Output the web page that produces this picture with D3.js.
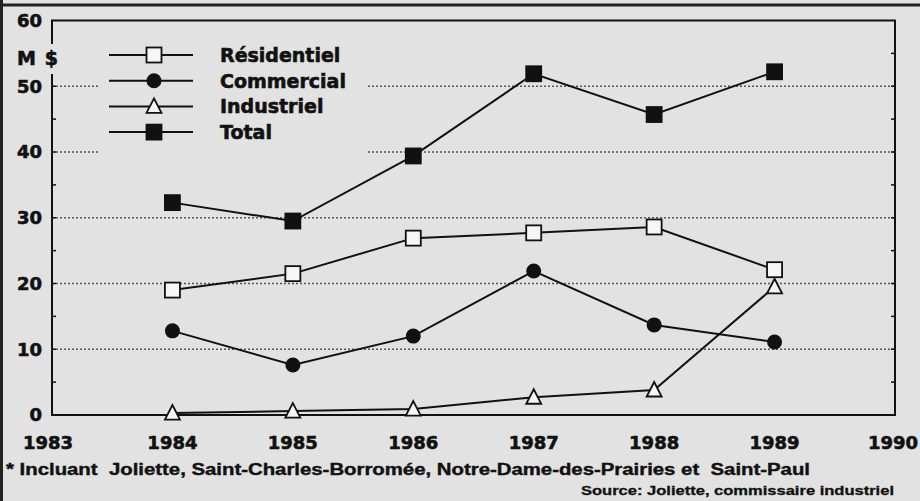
<!DOCTYPE html>
<meta charset="utf-8">
<style>

html,
body {
  margin: 0;
  overflow: hidden;
  background: #e2e2e2;
}

text {
  font-weight: bold;
  fill: #111;
  stroke: #111;
  stroke-width: 0.6;
}

</style>
<body>
<script src="https://d3js.org/d3.v7.min.js"></script>
<script>

var width = 920,
 height = 501;

// values (millions of dollars)
var years = [1984, 1985, 1986, 1987, 1988, 1989];
var residentiel = [19.0, 21.5, 26.9, 27.7, 28.6, 22.1];
var commercial = [12.8, 7.6, 12.0, 21.9, 13.7, 11.1];
var industriel = [0.3, 0.6, 0.9, 2.7, 3.8, 19.5];
var total = [32.3, 29.5, 39.4, 51.9, 45.7, 52.2];

var seriesNames = ["Résidentiel", "Commercial", "Industriel", "Total"];
var seriesShapes = ["square-open", "circle", "triangle-open", "square"];
var yTicks = [0, 10, 20, 30, 40, 50, 60];
var xTicks = [1983, 1984, 1985, 1986, 1987, 1988, 1989, 1990];

var series = [residentiel, commercial, industriel, total];

var x = d3.scaleLinear().domain([1983, 1990]).range([52, 895]);
var y = d3.scaleLinear().domain([0, 60]).range([415, 20.5]);

var svg = d3.select("body")
  .append("svg")
  .attr("width", width)
  .attr("height", height)
  .style("font-family", "'DejaVu Sans', sans-serif");

svg.append("rect")
  .attr("width", width)
  .attr("height", height)
  .attr("fill", "#e2e2e2");

// scan border
svg.append("line")
  .attr("x1", 0).attr("x2", width)
  .attr("y1", 5).attr("y2", 5)
  .attr("stroke", "#222").attr("stroke-width", 3);
svg.append("line")
  .attr("x1", 1.5).attr("x2", 1.5)
  .attr("y1", 0).attr("y2", height)
  .attr("stroke", "#222").attr("stroke-width", 3);

// dotted grid
svg.selectAll(".grid")
  .data(yTicks.filter(function(d) { return d > 0 && d < 60; }))
  .enter().append("line")
  .attr("class", "grid")
  .attr("x1", x(1983)).attr("x2", x(1990))
  .attr("y1", function(d) { return y(d); })
  .attr("y2", function(d) { return y(d); })
  .attr("stroke", "#555")
  .attr("stroke-width", 1.6)
  .attr("stroke-dasharray", "2,2");

// frame
svg.append("path")
  .attr("d", "M" + x(1983) + "," + y(0) + "V" + y(60) + "H" + x(1990) + "V" + y(0) + "Z")
  .attr("fill", "none")
  .attr("stroke", "#111")
  .attr("stroke-width", 2);

// minor ticks on left and right
var minor = d3.range(5, 60, 5);
svg.selectAll(".ltick")
  .data(minor)
  .enter().append("line")
  .attr("x1", x(1983)).attr("x2", x(1983) + 4)
  .attr("y1", function(d) { return y(d); })
  .attr("y2", function(d) { return y(d); })
  .attr("stroke", "#111").attr("stroke-width", 1.5);
svg.selectAll(".rtick")
  .data(minor)
  .enter().append("line")
  .attr("x1", x(1990)).attr("x2", x(1990) - 4)
  .attr("y1", function(d) { return y(d); })
  .attr("y2", function(d) { return y(d); })
  .attr("stroke", "#111").attr("stroke-width", 1.5);

// y labels
svg.selectAll(".ylab")
  .data(yTicks)
  .enter().append("text")
  .attr("x", 42)
  .attr("y", function(d) { return y(d); })
  .attr("dy", "0.36em")
  .attr("text-anchor", "end")
  .attr("font-size", 18)
  .text(function(d) { return d; });

// unit label over the axis
svg.append("rect")
  .attr("x", 14).attr("y", 44).attr("width", 46).attr("height", 30)
  .attr("fill", "#e2e2e2");
svg.append("text")
  .attr("x", 17).attr("y", 58)
  .attr("dy", "0.36em")
  .attr("font-size", 19)
  .attr("textLength", 41)
  .attr("lengthAdjust", "spacing")
  .text("M $");

// x labels
svg.selectAll(".xlab")
  .data(xTicks)
  .enter().append("text")
  .attr("x", function(d) { return x(d); })
  .attr("y", 443)
  .attr("dy", "0.36em")
  .attr("text-anchor", function(d) { return d == 1990 ? "end" : "middle"; })
  .attr("dx", function(d) { return d == 1990 ? 23 : (d == 1983 ? -4 : 0); })
  .attr("font-size", 18)
  .text(function(d) { return d; });

function marker(g, shape) {
  if (shape == "circle") {
    g.append("circle").attr("r", 7.5).attr("fill", "#111");
  } else if (shape == "square" || shape == "square-open") {
    g.append("rect")
      .attr("x", -7.5).attr("y", -7.5)
      .attr("width", 15).attr("height", 15)
      .attr("fill", shape == "square" ? "#111" : "#f6f6f6")
      .attr("stroke", "#111").attr("stroke-width", 1.8);
  } else {
    g.append("path")
      .attr("d", "M0,-8L7.5,6.5L-7.5,6.5Z")
      .attr("fill", "#f6f6f6")
      .attr("stroke", "#111").attr("stroke-width", 1.8);
  }
}

var line = d3.line()
  .x(function(d, i) { return x(years[i]); })
  .y(function(d) { return y(d); });

series.forEach(function(vals, s) {
  svg.append("path")
    .attr("d", line(vals))
    .attr("fill", "none")
    .attr("stroke", "#111")
    .attr("stroke-width", 2);
});

series.forEach(function(vals, s) {
  svg.selectAll(".pt" + s)
    .data(vals)
    .enter().append("g")
    .attr("transform", function(d, i) {
      return "translate(" + x(years[i]) + "," + y(d) + ")";
    })
    .each(function() { marker(d3.select(this), seriesShapes[s]); });
});

// legend
svg.append("rect")
  .attr("x", 100).attr("y", 40).attr("width", 266).attr("height", 120)
  .attr("fill", "#e2e2e2");

var legend = svg.selectAll(".legend")
  .data(seriesNames)
  .enter().append("g")
  .attr("transform", function(d, i) { return "translate(0," + (55 + i * 25.7) + ")"; });

legend.append("line")
  .attr("x1", 109).attr("x2", 193)
  .attr("stroke", "#111").attr("stroke-width", 2);

legend.append("g")
  .attr("transform", "translate(154,0)")
  .each(function(d, i) { marker(d3.select(this), seriesShapes[i]); });

legend.append("text")
  .attr("x", 220)
  .attr("dy", "0.36em")
  .attr("font-size", 19)
  .text(function(d) { return d; });

// notes
svg.append("text")
  .attr("x", 6).attr("y", 469)
  .attr("dy", "0.36em")
  .style("font-family", "'Liberation Sans', sans-serif")
  .style("stroke-width", 0.4)
  .attr("font-size", 16)
  .attr("textLength", 804)
  .attr("lengthAdjust", "spacingAndGlyphs")
  .style("white-space", "pre")
  .text("* Incluant  Joliette, Saint-Charles-Borromée, Notre-Dame-des-Prairies et  Saint-Paul");

svg.append("text")
  .attr("x", 581).attr("y", 491)
  .attr("dy", "0.36em")
  .style("font-family", "'Liberation Sans', sans-serif")
  .style("stroke-width", 0.3)
  .attr("font-size", 12)
  .attr("textLength", 313)
  .attr("lengthAdjust", "spacingAndGlyphs")
  .text("Source: Joliette, commissaire industriel");

</script>
